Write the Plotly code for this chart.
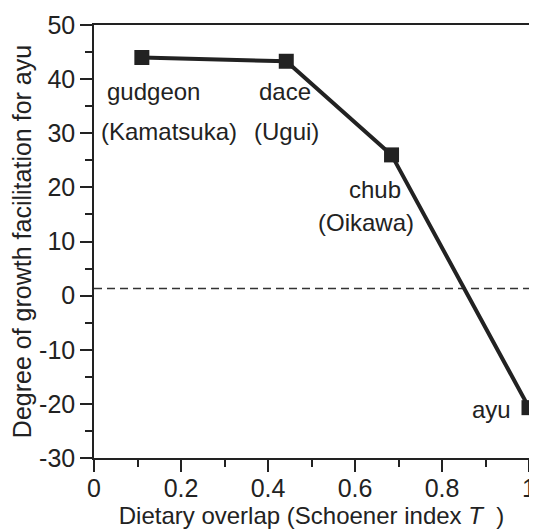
import plotly.graph_objects as go

# Data
species = ["gudgeon<br>(Kamatsuka)", "dace<br>(Ugui)", "chub<br>(Oikawa)", "ayu"]
overlap = [0.11, 0.442, 0.684, 1.0]
facilitation = [44.0, 43.3, 26.0, -20.7]
baseline = 1.3
x_ticks = [0, 0.2, 0.4, 0.6, 0.8, 1]
x_ticklabels = ["0", "0.2", "0.4", "0.6", "0.8", "1"]
y_ticks = [-30, -20, -10, 0, 10, 20, 30, 40, 50]
y_ticklabels = ["-30", "-20", "-10", "0", "10", "20", "30", "40", "50"]

FONT = "Liberation Sans, Arial, Helvetica, sans-serif"
INK = "#222222"

fig = go.Figure()

fig.add_trace(go.Scatter(
    x=[0, 1], y=[baseline, baseline], mode="lines",
    line=dict(color="#333333", width=1.5, dash="8px,5px"),
    hoverinfo="skip", showlegend=False,
))

fig.add_trace(go.Scatter(
    x=overlap, y=facilitation, mode="lines+markers",
    line=dict(color=INK, width=4),
    marker=dict(symbol="square", size=15, color=INK),
    cliponaxis=False, showlegend=False,
))

# Labels anchored to points with pixel offsets
label_lines = [
    ("gudgeon", 0, 12, -34), ("(Kamatsuka)", 0, 27, -74),
    ("dace", 1, -1, -30), ("(Ugui)", 1, 0, -70),
    ("chub", 2, -17, -35), ("(Oikawa)", 2, -26, -68),
    ("ayu", 3, -38, -2),
]
for text, i, dx, dy in label_lines:
    fig.add_annotation(
        x=overlap[i], y=facilitation[i], xref="x", yref="y",
        text=text, showarrow=False, xshift=dx, yshift=dy,
        font=dict(family=FONT, size=24, color=INK),
        xanchor="center", yanchor="middle",
    )

# The page body has an 8px margin, so the figure is 8px smaller
fig.update_layout(
    width=529, height=522,
    margin=dict(l=86, r=8, t=17, b=72),
    paper_bgcolor="white", plot_bgcolor="white",
    font=dict(family=FONT, size=24, color=INK),
    showlegend=False,
)

fig.update_xaxes(
    range=[0, 1], tickvals=x_ticks, ticktext=x_ticklabels,
    automargin=False, ticklabelstandoff=-5,
    showgrid=False, zeroline=False,
    showline=True, linecolor=INK, linewidth=1.5, mirror=True,
    ticks="outside", ticklen=12, tickwidth=1.5, tickcolor=INK,
    minor=dict(dtick=0.1, ticks="outside", ticklen=7, tickwidth=1.5, tickcolor=INK, showgrid=False),
    tickfont=dict(family=FONT, size=25, color=INK),
    title=dict(text="Dietary overlap (Schoener index <i>T</i>  )", standoff=6,
               font=dict(family=FONT, size=24, color=INK)),
)

fig.update_yaxes(
    range=[-30, 50], tickvals=y_ticks, ticktext=y_ticklabels,
    automargin=False,
    showgrid=False, zeroline=False,
    showline=True, linecolor=INK, linewidth=1.5, mirror=True,
    ticks="outside", ticklen=12, tickwidth=1.5, tickcolor=INK,
    minor=dict(dtick=5, ticks="outside", ticklen=7, tickwidth=1.5, tickcolor=INK, showgrid=False),
    tickfont=dict(family=FONT, size=25, color=INK),
    title=dict(text="Degree of growth facilitation for ayu", standoff=12,
               font=dict(family=FONT, size=25, color=INK)),
)

fig.write_html("out.html")
